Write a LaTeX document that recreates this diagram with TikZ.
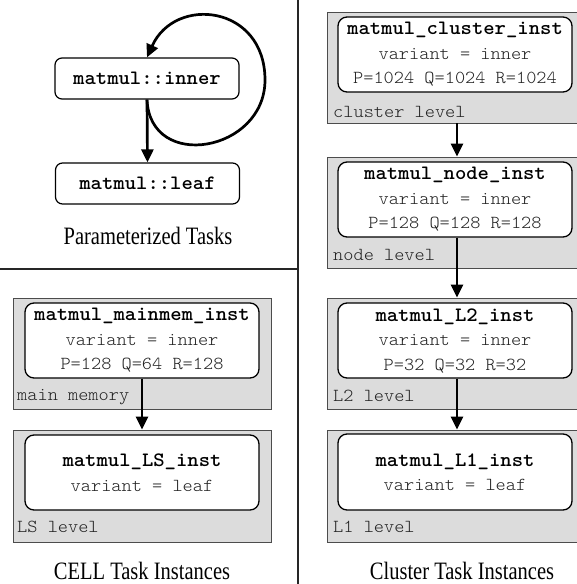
\documentclass[tikz,border=0pt]{standalone}
\usepackage{fontspec}
\setmainfont{Liberation Serif}
\setmonofont{lmmonolt10-regular}[Extension=.otf,BoldFont=lmmonolt10-bold,FakeStretch=1.06]
\newfontfamily\capfont{Liberation Serif}[FakeStretch=0.82]
\usetikzlibrary{arrows.meta}
\definecolor{lvlgray}{HTML}{DCDCDC}
\definecolor{txtgray}{HTML}{222222}
\newcommand\ttlfont{\fontsize{20.4}{24.5}\selectfont\bfseries\color{black}}
\begin{document}
\begin{tikzpicture}[x=1pt,y=-1pt,
  arr/.style={line width=2.7pt,-{Triangle[width=12pt,length=13pt]}},
  divider/.style={line width=1.4pt,draw=black!85},
  levelbox/.style={rectangle,draw=black!70,line width=0.8pt,fill=lvlgray,inner sep=0pt},
  instbox/.style={rectangle,rounded corners=9pt,draw=black,line width=1.3pt,fill=white,
     inner sep=0pt,minimum width=234pt,align=center,text=txtgray,
     font=\fontsize{18.3}{24.5}\selectfont\ttfamily},
  taskbox/.style={rectangle,rounded corners=7pt,draw=black,line width=1.2pt,fill=white,
     inner sep=0pt,minimum width=184pt,minimum height=41pt,
     font=\fontsize{20.4}{22}\selectfont\ttfamily\bfseries},
  lvl/.style={anchor=west,inner sep=0pt,text=txtgray,font=\fontsize{18.3}{20}\selectfont\ttfamily},
  captxt/.style={inner sep=0pt,font=\fontsize{25}{28}\capfont}]
\useasboundingbox (0,0) rectangle (577,584);
\fill[white] (0,0) rectangle (577,584);

% dividers
\coordinate (vtop) at (298,0);
\coordinate (vbot) at (298,584);
\coordinate (hl) at (0,269);
\coordinate (hr) at (298,269);
\draw[divider] (vtop) -- (vbot);
\draw[divider] (hl) -- (hr);

% parameterized tasks
\node[taskbox] (inner) at (147,78.5) {matmul::inner};
\node[taskbox] (leaf) at (147.5,183.5) {matmul::leaf};
\node[captxt] (capP) at (148,236) {Parameterized Tasks};
\draw[arr] (inner.south) -- (leaf.north);
\draw[arr] (inner.south) .. controls (150,172) and (265,152) .. (265,80)
   .. controls (265,5) and (175,-5) .. (inner.north);

% CELL task instances
\node[levelbox,minimum width=258pt,minimum height=111pt] (mmg) at (142,353.5) {};
\node[instbox,minimum height=75pt] (mmw) at (142,340.5)
   {{\ttlfont matmul\_mainmem\_inst}\\variant = inner\\P=128 Q=64 R=128};
\node[lvl] (mml) at (17,397) {main memory};
\node[levelbox,minimum width=258pt,minimum height=112pt] (lsg) at (142,486) {};
\node[instbox,minimum height=75pt] (lsw) at (142,472.5)
   {{\ttlfont matmul\_LS\_inst}\\variant = leaf};
\node[lvl] (lsl) at (17,527) {LS level};
\node[captxt] (capC) at (142,571) {CELL Task Instances};
\draw[arr] (mmw.south -| mmg.south) -- (lsg.north);

% Cluster task instances
\node[levelbox,minimum width=260pt,minimum height=111pt] (clg) at (457,67.5) {};
\node[instbox,minimum height=75pt] (clw) at (455,54.5)
   {{\ttlfont matmul\_cluster\_inst}\\variant = inner\\P=1024 Q=1024 R=1024};
\node[lvl] (cll) at (333,112) {cluster level};

\node[levelbox,minimum width=260pt,minimum height=111pt] (ndg) at (457,212.5) {};
\node[instbox,minimum height=75pt] (ndw) at (455,199.5)
   {{\ttlfont matmul\_node\_inst}\\variant = inner\\P=128 Q=128 R=128};
\node[lvl] (ndl) at (333,255) {node level};

\node[levelbox,minimum width=260pt,minimum height=111pt] (l2g) at (457,353.5) {};
\node[instbox,minimum height=75pt] (l2w) at (455,340.5)
   {{\ttlfont matmul\_L2\_inst}\\variant = inner\\P=32 Q=32 R=32};
\node[lvl] (l2l) at (333,396) {L2 level};

\node[levelbox,minimum width=260pt,minimum height=112pt] (l1g) at (457,486) {};
\node[instbox,minimum height=76pt] (l1w) at (455,472)
   {{\ttlfont matmul\_L1\_inst}\\variant = leaf};
\node[lvl] (l1l) at (333,527) {L1 level};

\node[captxt] (capR) at (462,571) {Cluster Task Instances};

\draw[arr] (clg.south) -- (ndg.north);
\draw[arr] (ndw.south -| ndg.south) -- (l2g.north);
\draw[arr] (l2w.south -| l2g.south) -- (l1g.north);
\end{tikzpicture}
\end{document}
